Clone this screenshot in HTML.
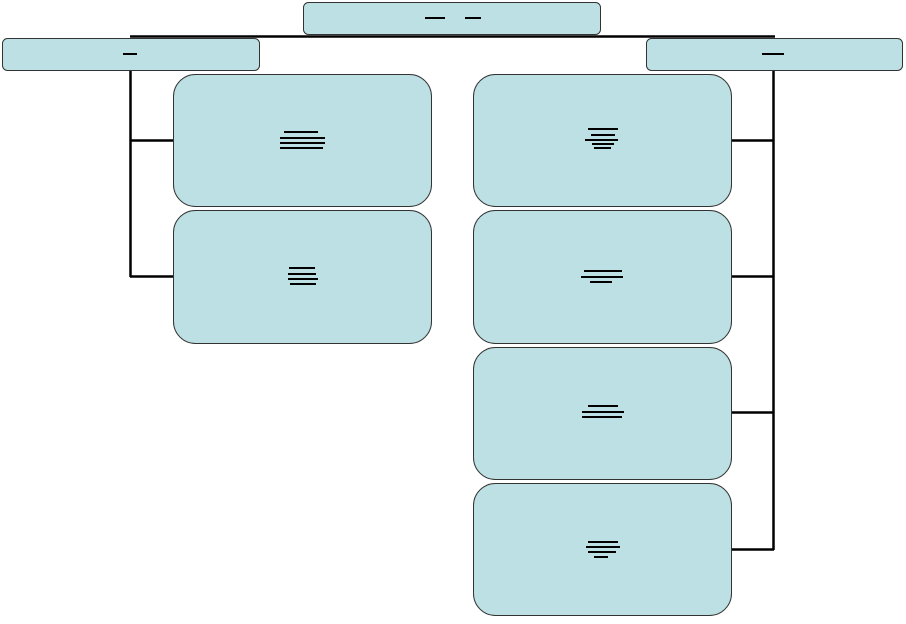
<!DOCTYPE html>
<html><head><meta charset="utf-8"><style>
body{margin:0;background:#fff;font-family:"Liberation Sans",sans-serif}
</style></head><body>
<svg width="906" height="619" xmlns="http://www.w3.org/2000/svg">
<g stroke="#000" stroke-width="2.5" fill="none">
<line x1="130" y1="36.5" x2="775" y2="36.5"/>
<line x1="130.5" y1="70" x2="130.5" y2="277"/>
<line x1="130" y1="140.5" x2="174" y2="140.5"/>
<line x1="130" y1="276.5" x2="174" y2="276.5"/>
<line x1="773.5" y1="70" x2="773.5" y2="550"/>
<line x1="730" y1="140.5" x2="774" y2="140.5"/>
<line x1="730" y1="276.5" x2="774" y2="276.5"/>
<line x1="730" y1="412.5" x2="774" y2="412.5"/>
<line x1="730" y1="549.5" x2="774" y2="549.5"/>
</g>
<g fill="#bce0e3" stroke="#333" stroke-width="1">
<rect x="303.5" y="2.5" width="297" height="32" rx="5"/>
<rect x="2.5" y="38.5" width="257" height="32" rx="5"/>
<rect x="646.5" y="38.5" width="256" height="32" rx="5"/>
<rect x="173.5" y="74.5" width="258" height="132" rx="22"/>
<rect x="173.5" y="210.5" width="258" height="133" rx="22"/>
<rect x="473.5" y="74.5" width="258" height="132" rx="22"/>
<rect x="473.5" y="210.5" width="258" height="133" rx="22"/>
<rect x="473.5" y="347.5" width="258" height="132" rx="22"/>
<rect x="473.5" y="483.5" width="258" height="132" rx="22"/>
</g>
<g fill="#000">
<rect x="425" y="17" width="20" height="2"/><rect x="465" y="17" width="16" height="2"/>
<rect x="123" y="53" width="14" height="2"/>
<rect x="762" y="53" width="22" height="2"/>
<rect x="284" y="131" width="34" height="2"/><rect x="280" y="137" width="45" height="2"/><rect x="280" y="142" width="45" height="2"/><rect x="280" y="147" width="43" height="2"/>
<rect x="588" y="128" width="30" height="2"/><rect x="591" y="134" width="24" height="2"/><rect x="585" y="139" width="33" height="2"/><rect x="592" y="143" width="22" height="2"/><rect x="594" y="147" width="17" height="2"/>
<rect x="289" y="267" width="26" height="2"/><rect x="288" y="273" width="28" height="2"/><rect x="288" y="278" width="30" height="2"/><rect x="290" y="283" width="26" height="2"/>
<rect x="584" y="270" width="38" height="2"/><rect x="581" y="276" width="42" height="2"/><rect x="590" y="281" width="22" height="2"/>
<rect x="588" y="405" width="30" height="2"/><rect x="582" y="411" width="42" height="2"/><rect x="582" y="416" width="40" height="2"/>
<rect x="588" y="541" width="30" height="2"/><rect x="586" y="546" width="34" height="2"/><rect x="588" y="551" width="28" height="2"/><rect x="594" y="556" width="14" height="2"/>
</g>
</svg>
</body></html>
